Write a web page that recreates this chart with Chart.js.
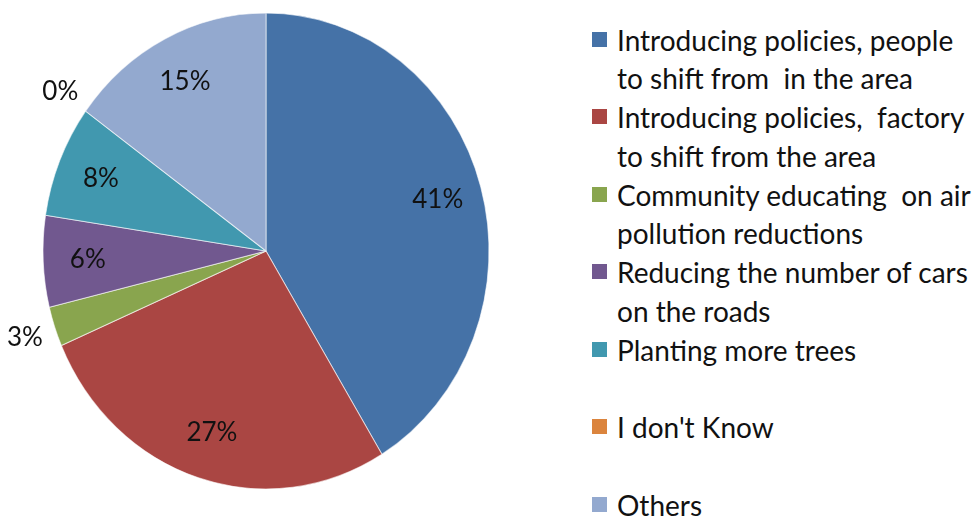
<!DOCTYPE html>
<html>
<head>
<meta charset="utf-8">
<script src="https://cdn.jsdelivr.net/npm/chart.js@4.4.1/dist/chart.umd.min.js"></script>
<style>
  html, body { margin: 0; padding: 0; background: #fff; }
  body { width: 976px; height: 517px; position: relative; overflow: hidden; font-family: Lato, "Open Sans", sans-serif; }
  #wrap { position: absolute; left: 0; top: 0; width: 532px; height: 502px; }
  #legend { position: absolute; left: 0; top: 0; }
  .item { position: absolute; left: 592px; }
  .sw { position: absolute; left: 0px; top: 11px; width: 15px; height: 15px; }
  .txt { position: absolute; left: 25px; top: 0; white-space: pre; font-size: 28px; line-height: 38.5px; color: #111; }
</style>
</head>
<body>
<div id="wrap"><canvas id="c"></canvas></div>
<div id="legend"></div>
<script>
const categories = [
  "Introducing policies, people to shift from  in the area",
  "Introducing policies,  factory to shift from the area",
  "Community educating  on air pollution reductions",
  "Reducing the number of cars on the roads",
  "Planting more trees",
  "I don't Know",
  "Others"
];
const legendLines = [
  ["Introducing policies, people", "to shift from  in the area"],
  ["Introducing policies,  factory", "to shift from the area"],
  ["Community educating  on air", "pollution reductions"],
  ["Reducing the number of cars", "on the roads"],
  ["Planting more trees"],
  ["I don't Know"],
  ["Others"]
];
const values = [41.3, 27.2, 2.7, 6.2, 7.6, 0, 15.0];
const colors = ["#4572A7", "#AA4643", "#89A54E", "#71588F", "#4198AF", "#DB843D", "#93A9CF"];

const RX = 223, RY = 238;

const ellipse = {
  id: 'ellipse',
  beforeDatasetsDraw(chart) {
    const a = chart.chartArea;
    const cx = (a.left + a.right) / 2, cy = (a.top + a.bottom) / 2;
    const ctx = chart.ctx;
    ctx.save();
    ctx.translate(cx, cy);
    ctx.scale(1, RY / RX);
    ctx.translate(-cx, -cy);
  },
  afterDatasetsDraw(chart) {
    chart.ctx.restore();
    const ctx = chart.ctx;
    const meta = chart.getDatasetMeta(0);
    const a = chart.chartArea;
    const cx = (a.left + a.right) / 2, cy = (a.top + a.bottom) / 2;
    ctx.save();
    ctx.font = '26px Lato, "Open Sans", sans-serif';
    ctx.fillStyle = '#111';
    ctx.textAlign = 'center';
    ctx.textBaseline = 'middle';
    meta.data.forEach((arc, i) => {
      const v = values[i];
      const mid = (arc.startAngle + arc.endAngle) / 2;
      const f = v < 5 ? 1.14 : 0.8;
      const x = cx + Math.cos(mid) * RX * f;
      const y = cy + Math.sin(mid) * RY * f;
      ctx.fillText(Math.round(v) + '%', x, y);
    });
    ctx.restore();
  }
};

new Chart(document.getElementById('c'), {
  type: 'pie',
  data: {
    labels: categories,
    datasets: [{
      data: values,
      backgroundColor: colors,
      borderColor: 'rgba(255,255,255,0.6)',
      borderWidth: 1
    }]
  },
  options: {
    responsive: true,
    maintainAspectRatio: false,
    animation: false,
    radius: RX,
    layout: { padding: 0 },
    plugins: { legend: { display: false }, tooltip: { enabled: false } }
  },
  plugins: [ellipse]
});

const leg = document.getElementById('legend');
legendLines.forEach((lines, i) => {
  const it = document.createElement('div');
  it.className = 'item';
  it.style.top = (20.75 + 77.5 * i) + 'px';
  const sw = document.createElement('div');
  sw.className = 'sw';
  sw.style.background = colors[i];
  const tx = document.createElement('div');
  tx.className = 'txt';
  tx.textContent = lines.join('\n');
  it.appendChild(sw);
  it.appendChild(tx);
  leg.appendChild(it);
});
</script>
</body>
</html>
